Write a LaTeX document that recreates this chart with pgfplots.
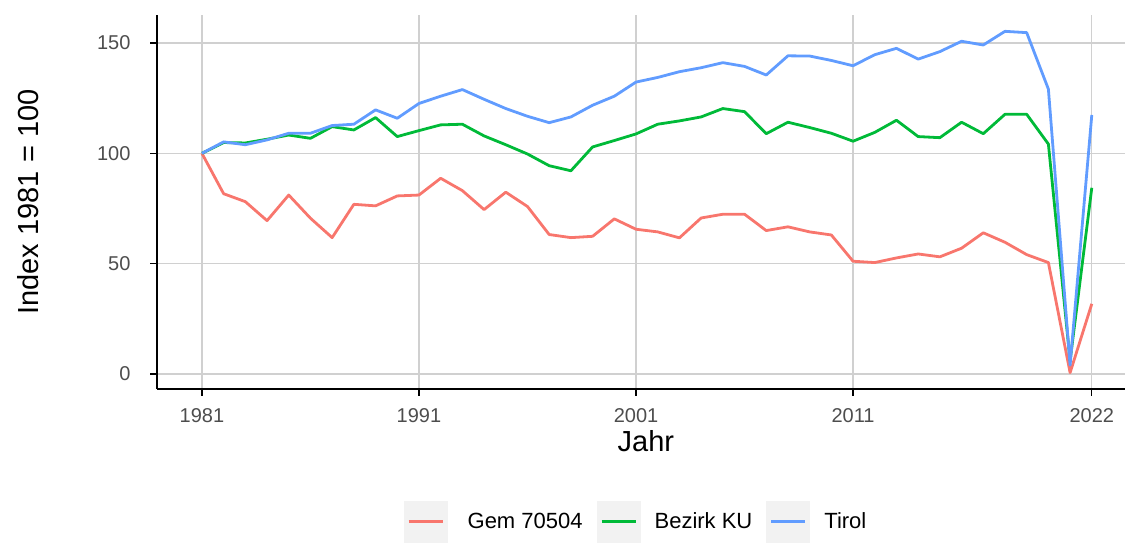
\documentclass[border=0pt]{standalone}
\usepackage{pgfplots}
\pgfplotsset{compat=1.18}
\usepackage{pgfplotstable}
\usepackage{fontspec}
\setmainfont{Liberation Sans}
\definecolor{cgem}{HTML}{F8766D}
\definecolor{cbez}{HTML}{00BA38}
\definecolor{ctir}{HTML}{619CFF}
\definecolor{tickgrey}{HTML}{4D4D4D}
\definecolor{gridgrey}{HTML}{D0D0D0}
\definecolor{keybg}{HTML}{F2F2F2}
\pgfplotstableread{
year gem bez tir
1981 100 100 100
1982 81.7 104.9 105.2
1983 78.1 104.7 103.9
1984 69.5 106.4 106.1
1985 81.1 108.3 109.1
1986 70.6 106.8 109.1
1987 61.8 112.1 112.6
1988 76.9 110.6 113.2
1989 76.2 116.2 119.7
1990 80.7 107.6 115.9
1991 81.1 110.3 122.6
1992 88.7 112.9 125.9
1993 83.1 113.2 128.9
1994 74.5 107.9 124.5
1995 82.4 103.9 120.3
1996 75.9 99.7 116.8
1997 63.2 94.4 113.9
1998 61.8 92.1 116.5
1999 62.4 102.9 121.8
2000 70.3 105.8 125.9
2001 65.6 108.8 132.3
2002 64.4 113.2 134.4
2003 61.7 114.7 137.0
2004 70.7 116.5 138.8
2005 72.4 120.3 141.1
2006 72.4 118.9 139.4
2007 65.0 108.9 135.5
2008 66.7 114.1 144.2
2009 64.4 111.7 144.1
2010 63.0 109.1 142.1
2011 51.1 105.5 139.7
2012 50.5 109.5 144.7
2013 52.6 115.0 147.6
2014 54.4 107.6 142.7
2015 53.1 107.1 146.1
2016 57.0 114.1 150.8
2017 64.0 108.9 149.1
2018 59.7 117.7 155.3
2019 54.1 117.7 154.7
2020 50.5 104.2 129.1
2021 0.6 6.0 4.0
2022 31.8 84.4 117.4
}\datatable
\begin{document}
\begin{tikzpicture}
\path[use as bounding box] (0,0) rectangle (1125pt,543pt);
\begin{axis}[
  at={(157pt,154pt)}, anchor=south west,
  scale only axis, width=968pt, height=374pt,
  xmin=1978.93, xmax=2023.53, ymin=-6.8, ymax=162.7,
  axis lines=left, axis line style={-, black, line width=1.3pt},
  xtick={1981,1991,2001,2011,2022}, ytick={0,50,100,150},
  tick align=outside, major tick length=7pt,
  tick style={black, line width=1.3pt},
  grid=major, major grid style={gridgrey, line width=1.3pt},
  /pgf/number format/assume math mode=true,
  /pgf/number format/1000 sep={},
  ticklabel style={font=\fontsize{20}{24}\selectfont, text=tickgrey},
  xticklabel style={yshift=-9pt},
  yticklabel style={xshift=-16pt},
  xlabel={Jahr}, ylabel={Index 1981 = 100},
  every axis x label/.style={at={(axis description cs:0.505,-0.139)}, anchor=center,
    font=\fontsize{29}{32}\selectfont, text=black},
  every axis y label/.style={at={(axis description cs:-0.1333,0.5)}, rotate=90, anchor=center,
    font=\fontsize{29}{32}\selectfont, text=black},
  legend columns=3,
  legend style={at={(axis description cs:0.4938,-0.3548)}, anchor=center, draw=none, fill=none,
    inner sep=0pt, font=\fontsize{22}{26}\selectfont, nodes={inner sep=0pt},
    /tikz/column 1/.style={column sep=20pt},
    /tikz/column 2/.style={column sep=14pt},
    /tikz/column 3/.style={column sep=14pt},
    /tikz/column 4/.style={column sep=14pt},
    /tikz/column 5/.style={column sep=14pt}},
  legend image code/.code={\fill[keybg, draw=none] (0pt,-21pt) rectangle (44pt,21pt);
    \draw[#1] (5pt,0pt) -- (39pt,0pt);},
  every axis plot/.append style={line width=2.8pt, line join=round},
]
\addplot[cgem] table[x=year, y=gem] {\datatable};
\addlegendentry{Gem 70504}
\addplot[cbez] table[x=year, y=bez] {\datatable};
\addlegendentry{Bezirk KU}
\addplot[ctir] table[x=year, y=tir] {\datatable};
\addlegendentry{Tirol}
\end{axis}
\end{tikzpicture}
\end{document}
